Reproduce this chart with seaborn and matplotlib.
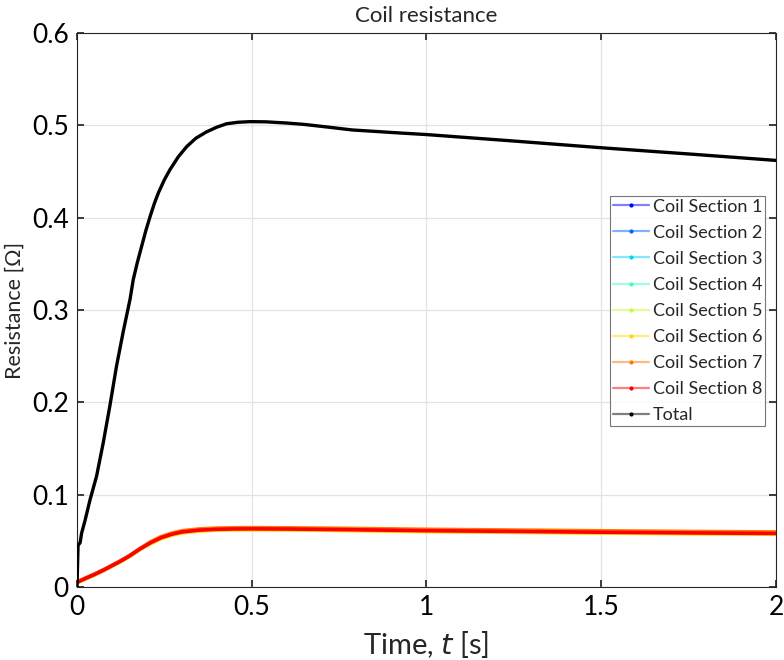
import numpy as np
import pandas as pd
import matplotlib
matplotlib.use("Agg")
import matplotlib.pyplot as plt
import seaborn as sns
from matplotlib.lines import Line2D
from matplotlib import font_manager

# ---------------- data ----------------
t_total = [0, 0.003, 0.009, 0.013, 0.023, 0.037, 0.056, 0.075, 0.094, 0.113,
           0.132, 0.152, 0.161, 0.173, 0.185, 0.197, 0.209, 0.221, 0.233, 0.25,
           0.266, 0.29, 0.314, 0.34, 0.371, 0.40, 0.428, 0.46, 0.495, 0.54,
           0.6, 0.65, 0.72, 0.787, 0.85, 0.92, 1.0, 1.25, 1.508, 1.75, 2.0]
r_total = [0, 0.045, 0.048, 0.058, 0.072, 0.094, 0.120, 0.156, 0.196, 0.239,
           0.276, 0.312, 0.333, 0.352, 0.369, 0.386, 0.401, 0.415, 0.427, 0.441,
           0.452, 0.466, 0.477, 0.486, 0.493, 0.498, 0.5017, 0.5033, 0.504, 0.5038,
           0.5025, 0.501, 0.498, 0.4950, 0.4935, 0.4918, 0.490, 0.483, 0.4755, 0.469, 0.462]

t_sec = [0, 0.02, 0.05, 0.08, 0.1, 0.125, 0.15, 0.18, 0.21, 0.24, 0.27, 0.3,
         0.35, 0.4, 0.45, 0.5, 0.6, 0.75, 1.0, 1.25, 1.5, 1.75, 2.0]
sec1 = [0.0050, 0.0086, 0.0136, 0.0191, 0.0231, 0.0281, 0.0336, 0.0412, 0.0480, 0.0535, 0.0572, 0.0598,
        0.0618, 0.0627, 0.0631, 0.0632, 0.0630, 0.0624, 0.0613, 0.0605, 0.0596, 0.0589, 0.0583]
sec2 = [0.0051, 0.0087, 0.0137, 0.0192, 0.0232, 0.0282, 0.0337, 0.0413, 0.0482, 0.0537, 0.0574, 0.0600,
        0.0620, 0.0629, 0.0633, 0.0634, 0.0632, 0.0627, 0.0616, 0.0608, 0.0600, 0.0593, 0.0587]
sec3 = [0.0049, 0.0085, 0.0135, 0.0190, 0.0230, 0.0280, 0.0335, 0.0411, 0.0478, 0.0533, 0.0570, 0.0596,
        0.0616, 0.0625, 0.0629, 0.0630, 0.0628, 0.0622, 0.0610, 0.0602, 0.0593, 0.0586, 0.0580]
sec4 = [0.0048, 0.0084, 0.0134, 0.0189, 0.0229, 0.0279, 0.0334, 0.0410, 0.0476, 0.0531, 0.0568, 0.0594,
        0.0614, 0.0623, 0.0627, 0.0628, 0.0626, 0.0620, 0.0608, 0.0600, 0.0591, 0.0584, 0.0578]
sec5 = [0.0047, 0.0082, 0.0132, 0.0187, 0.0227, 0.0277, 0.0332, 0.0408, 0.0473, 0.0528, 0.0565, 0.0591,
        0.0611, 0.0620, 0.0624, 0.0625, 0.0623, 0.0617, 0.0605, 0.0597, 0.0588, 0.0581, 0.0575]
sec6 = [0.0045, 0.0080, 0.0130, 0.0185, 0.0225, 0.0275, 0.0330, 0.0405, 0.0468, 0.0523, 0.0560, 0.0586,
        0.0606, 0.0615, 0.0619, 0.0620, 0.0618, 0.0612, 0.0600, 0.0592, 0.0584, 0.0577, 0.0572]
sec7 = [0.0055, 0.0090, 0.0140, 0.0195, 0.0235, 0.0285, 0.0340, 0.0416, 0.0488, 0.0545, 0.0582, 0.0609,
        0.0629, 0.0638, 0.0642, 0.0643, 0.0641, 0.0636, 0.0625, 0.0617, 0.0609, 0.0602, 0.0596]
sec8 = [0.0050, 0.0085, 0.0135, 0.0190, 0.0230, 0.0280, 0.0335, 0.0411, 0.0478, 0.0533, 0.0570, 0.0596,
        0.0616, 0.0625, 0.0629, 0.0630, 0.0628, 0.0622, 0.0610, 0.0602, 0.0593, 0.0586, 0.0580]

series_names = ["Coil Section 1", "Coil Section 2", "Coil Section 3", "Coil Section 4",
                "Coil Section 5", "Coil Section 6", "Coil Section 7", "Coil Section 8", "Total"]
series_colors = ["#0000ff", "#0064ff", "#00d2ff", "#3cffc3",
                 "#c3ff3c", "#ffdc00", "#ff7800", "#ff0000", "#000000"]
x_ticks = [0, 0.5, 1, 1.5, 2]
y_ticks = [0, 0.1, 0.2, 0.3, 0.4, 0.5, 0.6]

# ---------------- build frame ----------------
frames = []
for name, vals in zip(series_names[:8], [sec1, sec2, sec3, sec4, sec5, sec6, sec7, sec8]):
    frames.append(pd.DataFrame({"t": t_sec, "R": vals, "series": name}))
frames.append(pd.DataFrame({"t": t_total, "R": r_total, "series": "Total"}))
df = pd.concat(frames, ignore_index=True)

# ---------------- style ----------------
sns.set_theme(style="white")
avail = {f.name for f in font_manager.fontManager.ttflist}
fam = [f for f in ["Liberation Sans Narrow", "Lato", "DejaVu Sans"] if f in avail]
plt.rcParams["font.family"] = fam

fig = plt.figure(figsize=(7.84, 6.60), dpi=100)
ax = fig.add_axes([0.0982, 0.1106, 0.8916, 0.8394])

palette = dict(zip(series_names, series_colors))
sns.lineplot(data=df, x="t", y="R", hue="series", palette=palette,
             hue_order=series_names, sort=False, estimator=None,
             linewidth=2.6, ax=ax, legend=False)
for ln in ax.get_lines():
    if ln.get_label() == "Total" or matplotlib.colors.to_hex(ln.get_color()) == "#000000":
        ln.set_linewidth(2.4)
        ln.set_zorder(5)

ax.set_xlim(0, 2)
ax.set_ylim(0, 0.6)
ax.set_xticks(x_ticks)
ax.set_xticklabels([f"{v:g}" for v in x_ticks])
ax.set_yticks(y_ticks)
ax.set_yticklabels([f"{v:g}" for v in y_ticks])
ax.grid(True, color="#e3e3e3", linewidth=0.9)
ax.set_axisbelow(True)
for s in ax.spines.values():
    s.set_color("#262626")
    s.set_linewidth(0.8)
ax.tick_params(axis="both", which="both", direction="in", length=5,
               labelsize=19, colors="#262626", pad=6, top=True, right=True,
               bottom=True, left=True)
ax.tick_params(labelcolor="#000000")

ax.set_title("Coil resistance", fontsize=16, pad=8)
ax.set_xlabel("Time, $\\it{t}$ [s]", fontsize=21, labelpad=6)
ax.set_ylabel("Resistance [Ω]", fontsize=15.5, labelpad=5)

handles = [Line2D([0], [0], color=c, alpha=0.5, linewidth=1.6, marker=".",
                  markersize=4, markerfacecolor=c, markeredgecolor=c)
           for c in series_colors]
leg = ax.legend(handles, series_names, loc="upper right",
                bbox_to_anchor=(0.984, 0.706), fontsize=13, frameon=True,
                fancybox=False, edgecolor="#555555", handlelength=2.0,
                handletextpad=0.2, labelspacing=0.56, borderpad=0.15,
                borderaxespad=0.0)
leg.get_frame().set_linewidth(0.8)
for lh in leg.get_lines():
    lh.set_alpha(None)
    c = matplotlib.colors.to_rgba(lh.get_color())
    lh.set_color((c[0], c[1], c[2], 0.5))

fig.savefig("out.png", dpi=100)
